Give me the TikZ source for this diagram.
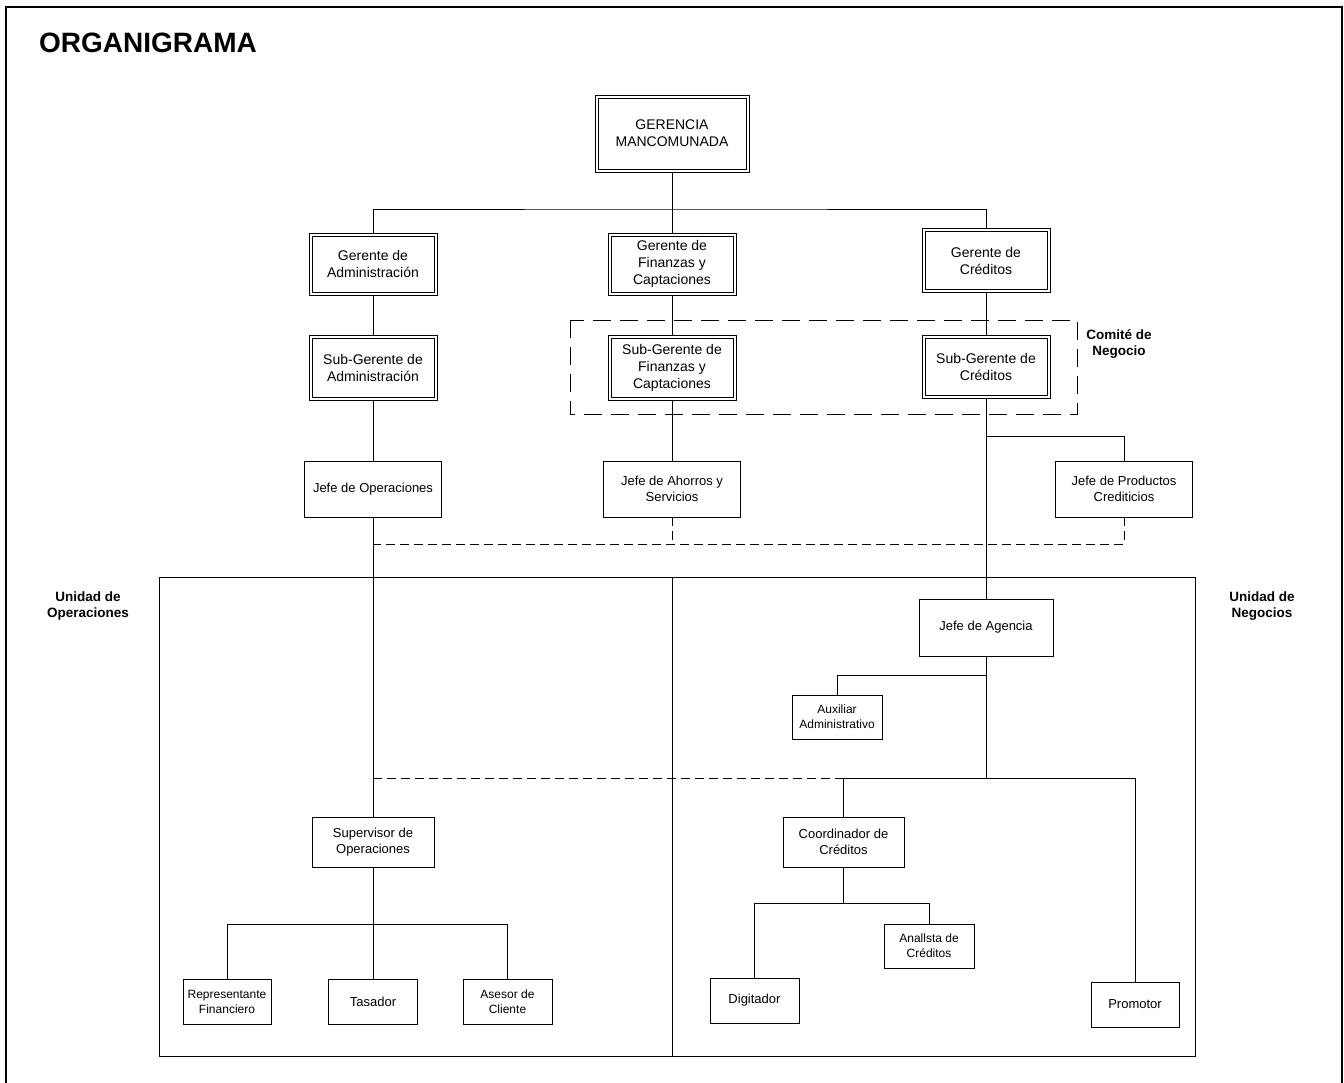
\documentclass[tikz,border=0pt]{standalone}
\usepackage{fontspec}
\setmainfont{Liberation Sans}
\usepackage{tikz}
\usetikzlibrary{positioning,calc}

\begin{document}
\begin{tikzpicture}[x=1pt,y=-1pt,line width=0.8pt,
    gbox/.style={draw,fill=white,align=center,minimum width=128pt,minimum height=62pt,inner sep=1pt,
      font=\fontsize{14}{17}\selectfont,
      path picture={\draw ($(path picture bounding box.north west)+(3pt,-3pt)$)
        rectangle ($(path picture bounding box.south east)+(-3pt,3pt)$);}},
    pbox/.style={draw,fill=white,align=center,inner sep=1pt,font=\fontsize{13}{16.5}\selectfont},
    sbox/.style={pbox,minimum width=88pt,minimum height=44pt,font=\fontsize{12}{15}\selectfont},
    unidad/.style={align=center,font=\fontsize{13.5}{16}\selectfont\bfseries},
    comite/.style={dash pattern=on 18pt off 9pt},
    dline/.style={dash pattern=on 9pt off 5pt}]
  \useasboundingbox (0,0) rectangle (1344,1082);
  \draw[line width=2.2pt] (6,1100) -- (6,7) -- (1342,7) -- (1342,1100);
  \node[font=\fontsize{28}{32}\selectfont\bfseries] (titulo) at (148,43) {ORGANIGRAMA};

  % gerencia
  \node[gbox,minimum width=154pt,minimum height=77pt] (gm) at (672,133.5) {GERENCIA\\MANCOMUNADA};
  \node[gbox] (gadm) at (373,264) {Gerente de\\Administración};
  \node[gbox] (gfin) at (672,264) {Gerente de\\Finanzas y\\Captaciones};
  \node[gbox,minimum height=64pt] (gcred) at (986,260.5) {Gerente de\\Créditos};
  \node[gbox,minimum height=65pt] (sgadm) at (373,367.5) {Sub-Gerente de\\Administración};
  \node[gbox,minimum height=65pt] (sgfin) at (672,367.5) {Sub-Gerente de\\Finanzas y\\Captaciones};
  \node[gbox,minimum height=63pt] (sgcred) at (986,366.5) {Sub-Gerente de\\Créditos};
  \draw[comite] (570,320) rectangle (1077,414);
  \node[unidad] (comitelbl) at (1119,344) {Comité de\\Negocio};

  \coordinate (bus) at (672,209);
  \draw (gm) -- (bus);
  \draw (gadm.north) |- (bus) -| (gcred.north);
  \draw (bus) -- (gfin.north);
  \draw (gadm) -- (sgadm);
  \draw (gfin) -- (sgfin);
  \draw (gcred) -- (sgcred);

  % jefaturas
  \node[pbox,minimum width=137pt,minimum height=56pt] (jop) at (373,489) {Jefe de Operaciones};
  \node[pbox,minimum width=137pt,minimum height=56pt] (jahorro) at (672,489) {Jefe de Ahorros y\\Servicios};
  \node[pbox,minimum width=137pt,minimum height=56pt] (jprod) at (1124,489) {Jefe de Productos\\Crediticios};
  \coordinate (prodbr) at (986,436);
  \coordinate (dl) at (373,544);
  \draw (sgadm) -- (jop);
  \draw (sgfin) -- (jahorro);
  \draw (jprod.north) |- (prodbr);
  \draw[dline] (jprod.south) |- (dl);
  \draw[dline] (jahorro.south) -- (jahorro.south |- dl);

  % unidades
  \draw (159,577) rectangle (1195,1056);
  \draw (672,577) -- (672,1056);
  \node[unidad] (uop) at (88,606) {Unidad de\\Operaciones};
  \node[unidad] (uneg) at (1262,606) {Unidad de\\Negocios};

  % negocios
  \node[pbox,minimum width=134pt,minimum height=57pt] (jag) at (986,627.5) {Jefe de Agencia};
  \node[sbox,minimum width=90pt] (aux) at (837,717) {Auxiliar\\Administrativo};
  \node[pbox,minimum width=121pt,minimum height=50pt] (coord) at (843.5,842) {Coordinador de\\Créditos};
  \node[sbox,minimum width=89pt,minimum height=45pt,font=\fontsize{13}{16.5}\selectfont] (dig) at (754.5,1000.5) {Digitador};
  \node[sbox,minimum width=90pt] (anal) at (929,946) {Anallsta de\\Créditos};
  \node[sbox,minimum height=45pt,font=\fontsize{13}{16.5}\selectfont] (prom) at (1135,1004.5) {Promotor};
  \coordinate (agbr) at (986,675);
  \coordinate (negbus) at (986,778);
  \coordinate (coordbr) at (843.5,903);
  \draw (sgcred) -- (jag);
  \draw (jag) -- (negbus);
  \draw (aux.north) |- (agbr);
  \draw (coord.north) |- (negbus) -| (prom.north);
  \draw (coord) -- (coordbr);
  \draw (dig.north) |- (coordbr) -| (anal.north);

  % operaciones
  \node[pbox,minimum width=122pt,minimum height=50pt] (sup) at (373,842) {Supervisor de\\Operaciones};
  \node[sbox,minimum height=45pt] (rep) at (227,1001.5) {Representante\\Financiero};
  \node[sbox,minimum width=89pt,minimum height=45pt,font=\fontsize{13}{16.5}\selectfont] (tas) at (373,1001.5) {Tasador};
  \node[sbox,minimum width=89pt,minimum height=45pt] (ases) at (507.5,1001.5) {Asesor de\\Cliente};
  \coordinate (supbr) at (373,924);
  \draw (jop) -- (sup);
  \draw[dline] (coord.north |- negbus) -- (sup.north |- negbus);
  \draw (sup) -- (supbr);
  \draw (rep.north) |- (supbr) -| (ases.north);
  \draw (supbr) -- (tas);
\end{tikzpicture}
\end{document}
